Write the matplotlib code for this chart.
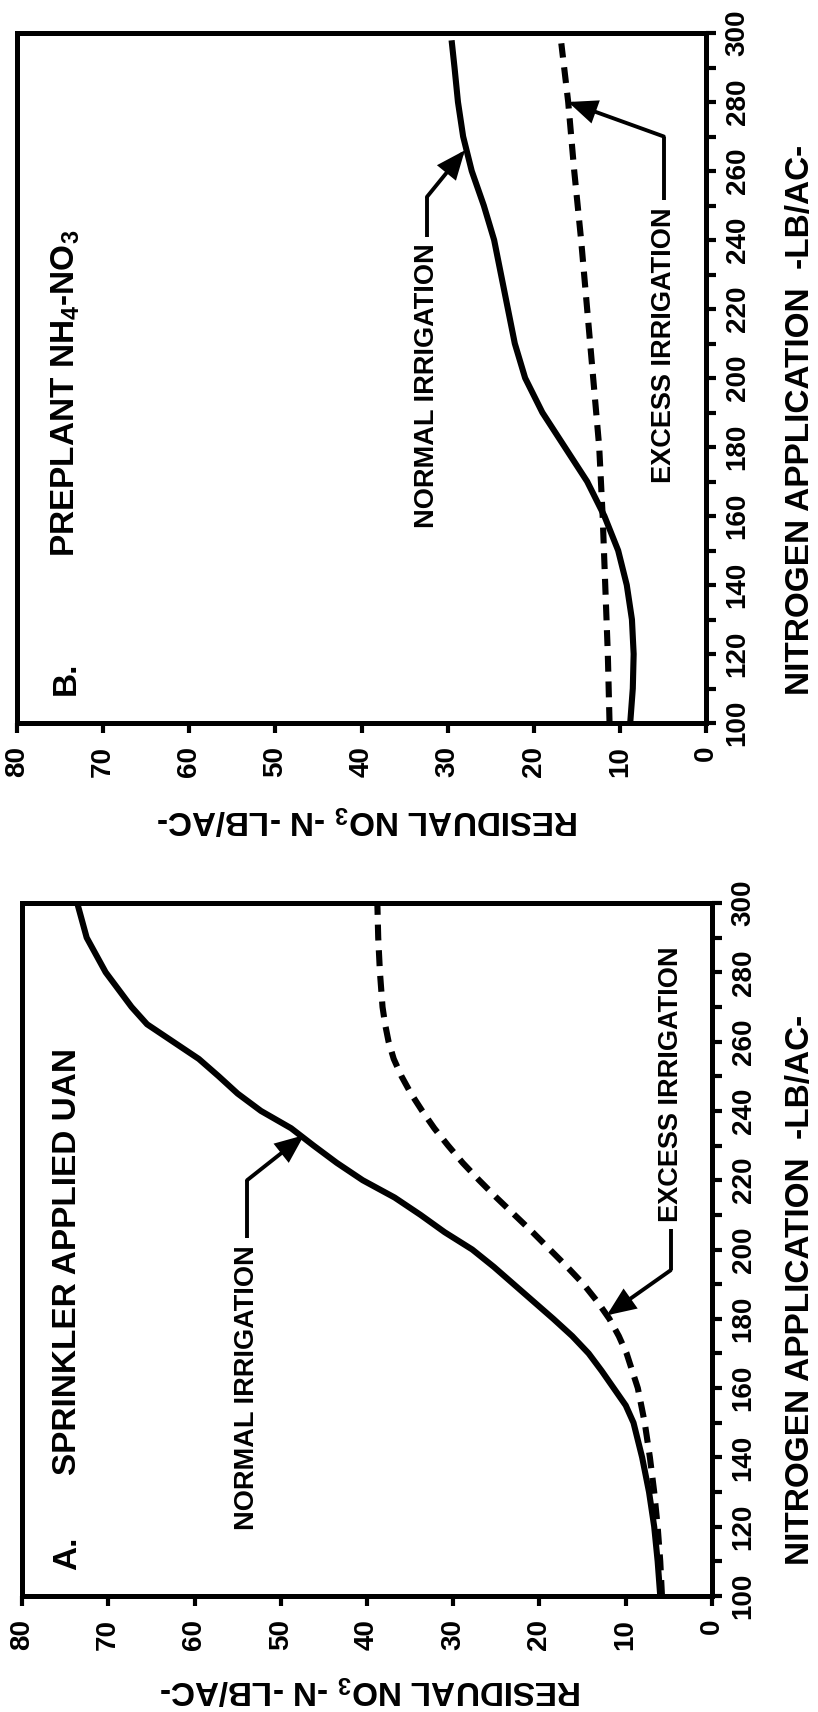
import numpy as np
import matplotlib
matplotlib.use("Agg")
import matplotlib.pyplot as plt
from matplotlib import font_manager
from matplotlib.ticker import FixedLocator

# ---------------- data ----------------
# Panel A: sprinkler applied UAN
a_normal_n = [100, 110, 120, 130, 140, 150, 155, 160, 165, 170, 175, 180, 185, 190, 195,
              200, 205, 210, 215, 220, 225, 230, 235, 240, 245, 250, 255, 260, 265, 270,
              275, 280, 290, 300]
a_normal_res = [6.0, 6.3, 6.7, 7.3, 8.1, 9.1, 10.0, 11.4, 12.8, 14.3, 16.2, 18.4, 20.7, 23.0, 25.3,
                27.8, 31.0, 33.8, 36.8, 40.5, 43.5, 46.2, 48.8, 52.3, 55.0, 57.2, 59.5, 62.5, 65.5, 67.3,
                68.8, 70.3, 72.5, 73.6]
a_excess_n = [100, 110, 120, 130, 140, 150, 160, 170, 175, 180, 185, 190, 195, 200, 205,
              210, 215, 220, 225, 230, 235, 240, 245, 250, 255, 260, 265, 270, 280, 290, 300]
a_excess_res = [5.8, 6.0, 6.3, 6.7, 7.2, 7.8, 8.6, 9.9, 10.8, 11.9, 13.3, 14.9, 16.8, 18.8, 20.8,
                22.9, 25.0, 27.0, 28.9, 30.6, 32.2, 33.6, 34.9, 36.0, 36.9, 37.5, 37.9, 38.2, 38.5, 38.7, 38.8]

# Panel B: preplant NH4-NO3
b_normal_n = [100, 110, 120, 130, 140, 150, 160, 170, 180, 190, 200, 210, 220, 230, 240,
              250, 260, 270, 280, 290, 297]
b_normal_res = [8.8, 8.5, 8.4, 8.6, 9.2, 10.2, 11.8, 13.8, 16.4, 19.0, 21.0, 22.2, 23.0, 23.8, 24.6,
                25.8, 27.2, 28.2, 28.8, 29.2, 29.5]
b_excess_n = [100, 120, 140, 160, 180, 200, 220, 240, 260, 280, 297]
b_excess_res = [11.2, 11.4, 11.7, 12.0, 12.4, 13.1, 13.8, 14.5, 15.3, 16.0, 16.8]

res_ticks = [80, 70, 60, 50, 40, 30, 20, 10, 0]
res_tick_labels = ["80", "70", "60", "50", "40", "30", "20", "10", "0"]
n_ticks = [100, 110, 120, 130, 140, 150, 160, 170, 180, 190, 200,
           210, 220, 230, 240, 250, 260, 270, 280, 290, 300]
n_tick_labels = ["100", "", "120", "", "140", "", "160", "", "180", "", "200",
                 "", "220", "", "240", "", "260", "", "280", "", "300"]

x_label = "NITROGEN APPLICATION  -LB/AC-"
y_label = r"RESIDUAL NO$_\mathbf{3}$ -N -LB/AC-"
title_a = ("A.", "SPRINKLER APPLIED UAN")
title_b = ("B.", r"PREPLANT NH$_\mathbf{4}$-NO$_\mathbf{3}$")
label_normal = "NORMAL IRRIGATION"
label_excess = "EXCESS IRRIGATION"

# ---------------- fonts ----------------
plt.rcParams["font.family"] = ["Liberation Sans", "DejaVu Sans"]
plt.rcParams["mathtext.fontset"] = "custom"
plt.rcParams["mathtext.rm"] = "Liberation Sans:bold"
plt.rcParams["mathtext.bf"] = "Liberation Sans:bold"
plt.rcParams["mathtext.it"] = "Liberation Sans:bold"

tick_fp = font_manager.FontProperties(family="Liberation Sans", weight="bold", size=20)
ann_fp = font_manager.FontProperties(family="Liberation Sans", weight="bold", size=19.5)
big_fp = font_manager.FontProperties(family="Liberation Sans", weight="bold", size=24)

W, H = 818, 1712
fig = plt.figure(figsize=(W / 100, H / 100), dpi=100)
fig.patch.set_facecolor("white")


def add_axes(l, t, r, b):
    return fig.add_axes([l / W, 1 - b / H, (r - l) / W, (b - t) / H])


def setup(ax):
    ax.set_xlim(80, 0)
    ax.set_ylim(100, 300)
    for sp in ax.spines.values():
        sp.set_linewidth(3.6)
    ax.xaxis.set_major_locator(FixedLocator(res_ticks))
    ax.set_xticklabels(res_tick_labels, rotation=90)
    ax.yaxis.tick_right()
    ax.yaxis.set_major_locator(FixedLocator(n_ticks))
    ax.set_yticklabels(n_tick_labels, rotation=90, va="center")
    for lab in ax.get_xticklabels() + ax.get_yticklabels():
        lab.set_fontproperties(tick_fp)
    ax.tick_params(axis="x", direction="out", length=7.5, width=3, pad=9,
                   bottom=True, top=False)
    ax.tick_params(axis="y", direction="out", length=7.5, width=3, pad=6,
                   right=True, left=False)


LW = 4.4
DASH = (0, (2.6, 1.6))


def leader(ax, text, text_xy, va, corner, tip):
    ax.text(text_xy[0], text_xy[1], text, rotation=90, ha="center", va=va,
            fontproperties=ann_fp)
    ax.plot([text_xy[0], corner[0]], [text_xy[1] + (2 if va == "top" else -2), corner[1]],
            color="black", lw=2.8, solid_capstyle="butt")
    ax.annotate("", xy=tip, xytext=corner,
                arrowprops=dict(arrowstyle="-|>,head_length=1.0,head_width=0.42",
                                lw=2.8, color="black", shrinkA=0, shrinkB=0,
                                mutation_scale=16, joinstyle="miter"))


# ---------------- Panel B ----------------
axB = add_axes(17, 33, 706, 723)
setup(axB)
axB.plot(b_normal_res, b_normal_n, color="black", lw=LW, solid_joinstyle="round")
axB.plot(b_excess_res, b_excess_n, color="black", lw=LW, ls=DASH, dash_capstyle="butt")
axB.text(74.3, 108, title_b[0], rotation=90, ha="center", va="bottom", fontproperties=big_fp)
axB.text(74.3, 148, title_b[1], rotation=90, ha="center", va="bottom", fontproperties=big_fp)
leader(axB, label_normal, (32.4, 239), "top", (32.4, 252.5), (28.0, 266))
leader(axB, label_excess, (4.9, 249.5), "top", (4.9, 270), (16.0, 280))

# ---------------- Panel A ----------------
axA = add_axes(22, 903, 712, 1596)
setup(axA)
axA.plot(a_normal_res, a_normal_n, color="black", lw=LW, solid_joinstyle="round")
axA.plot(a_excess_res, a_excess_n, color="black", lw=LW, ls=DASH, dash_capstyle="butt")
axA.text(74.7, 107.5, title_a[0], rotation=90, ha="center", va="bottom", fontproperties=big_fp)
axA.text(74.7, 135, title_a[1], rotation=90, ha="center", va="bottom", fontproperties=big_fp)
leader(axA, label_normal, (53.9, 201.3), "top", (53.9, 220), (47.3, 233))
leader(axA, label_excess, (4.8, 208), "bottom", (4.8, 194), (12.2, 181))

# ---------------- axis labels ----------------
fig.text(801 / W, 1 - 420 / H, x_label, rotation=90, ha="center", va="center",
         fontproperties=big_fp)
fig.text(801 / W, 1 - 1290 / H, x_label, rotation=90, ha="center", va="center",
         fontproperties=big_fp)
fig.text(368 / W, 1 - 820 / H, y_label, rotation=180, ha="center", va="center",
         fontproperties=big_fp)
fig.text(371 / W, 1 - 1690 / H, y_label, rotation=180, ha="center", va="center",
         fontproperties=big_fp)

fig.savefig("out.png", dpi=100, facecolor="white")
